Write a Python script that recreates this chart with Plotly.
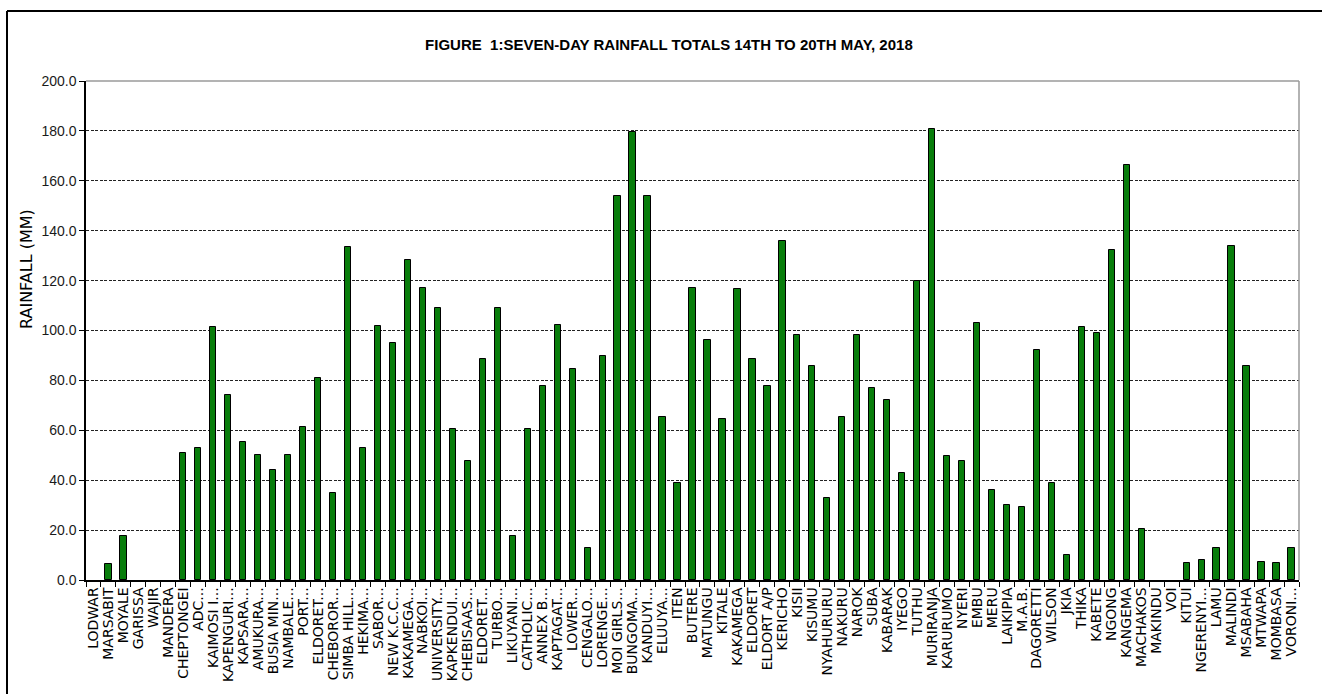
import plotly.graph_objects as go

# Stations along the x axis (as printed, long names truncated)
stations = [
    "LODWAR", "MARSABIT", "MOYALE", "GARISSA", "WAJIR", "MANDERA", "CHEPTONGEI",
    "ADC...", "KAIMOSI I...", "KAPENGURI...", "KAPSARA...", "AMUKURA...", "BUSIA MIN...",
    "NAMBALE...", "PORT...", "ELDORET...", "CHEBOROR...", "SIMBA HILL...", "HEKIMA...",
    "SABOR...", "NEW K.C.C...", "KAKAMEGA...", "NABKOI...", "UNIVERSITY...", "KAPKENDUI...",
    "CHEBISAAS...", "ELDORET...", "TURBO...", "LIKUYANI...", "CATHOLIC...", "ANNEX B...",
    "KAPTAGAT...", "LOWER...", "CENGALO...", "LORENGE...", "MOI GIRLS...", "BUNGOMA...",
    "KANDUYI...", "ELUUYA...", "ITEN", "BUTERE", "MATUNGU", "KITALE", "KAKAMEGA",
    "ELDORET", "ELDORT A/P", "KERICHO", "KISII", "KISUMU", "NYAHURURU", "NAKURU",
    "NAROK", "SUBA", "KABARAK", "IYEGO", "TUTHU", "MURIRANJA", "KARURUMO", "NYERI",
    "EMBU", "MERU", "LAIKIPIA", "M.A.B.", "DAGORETTI", "WILSON", "JKIA", "THIKA",
    "KABETE", "NGONG", "KANGEMA", "MACHAKOS", "MAKINDU", "VOI", "KITUI", "NGERENYI...",
    "LAMU", "MALINDI", "MSABAHA", "MTWAPA", "MOMBASA", "VORONI...",
]

# Seven-day rainfall totals (mm)
rainfall = [
    0.0, 6.5, 17.5, 0.0, 0.0, 0.0, 51.0,
    53.0, 101.5, 74.0, 55.5, 50.2, 43.9,
    50.2, 61.2, 81.0, 35.0, 133.4, 53.0,
    102.0, 94.8, 128.2, 117.2, 108.9, 60.5,
    47.7, 88.6, 108.9, 17.6, 60.5, 77.8,
    102.1, 84.5, 12.7, 89.9, 154.1, 179.5,
    154.1, 65.3, 38.8, 117.2, 96.2, 64.7, 116.7,
    88.6, 77.8, 135.8, 98.2, 85.9, 32.7, 65.3,
    98.2, 77.1, 72.2, 42.9, 119.9, 180.7, 49.7, 47.7,
    102.9, 36.1, 29.9, 29.3, 92.2, 38.8, 10.2, 101.6,
    98.9, 132.2, 166.4, 20.3, 0.0, 0.0, 6.7, 8.0,
    12.7, 133.8, 85.9, 7.3, 6.7, 12.7,
]

y_ticks = [0, 20, 40, 60, 80, 100, 120, 140, 160, 180, 200]

positions = list(range(len(stations)))

W, H = 1322, 694
L, R, T, B = 86, 23, 81, 114
pw, ph = W - L - R, H - T - B


def px_x(p):
    return (p - L) / pw


def px_y(p):
    return (H - B - p) / ph


# no outline on stations that recorded nothing
outline_widths = [1 if v > 0 else 0 for v in rainfall]

fig = go.Figure(
    go.Bar(
        x=positions,
        y=rainfall,
        width=0.42,
        marker=dict(color="#087d0b", line=dict(color="#000000", width=outline_widths)),
        hoverinfo="x+y",
    )
)

fig.update_layout(
    width=W,
    height=H,
    margin=dict(l=L, r=R, t=T, b=B, pad=0),
    paper_bgcolor="#ffffff",
    plot_bgcolor="#ffffff",
    showlegend=False,
    bargap=0,
    title=dict(
        text="<b>FIGURE  1:SEVEN-DAY RAINFALL TOTALS 14TH TO 20TH MAY, 2018</b>",
        x=0.506,
        xanchor="center",
        y=1 - 45 / H,
        yanchor="middle",
        font=dict(family="Liberation Sans Narrow, Arial, sans-serif", size=15, color="#000000"),
    ),
    font=dict(family="Arial, Liberation Sans, sans-serif", color="#000000"),
)

fig.update_xaxes(
    range=[-0.5, len(stations) - 0.5],
    tickmode="array",
    tickvals=positions,
    ticktext=stations,
    tickangle=-90,
    ticks="",
    tickfont=dict(family="DejaVu Sans, Verdana, sans-serif", size=14, color="#000000"),
    showline=True,
    linecolor="#000000",
    linewidth=1.5,
    showgrid=False,
    zeroline=False,
    minor=dict(
        tickmode="array",
        tickvals=[p - 0.5 for p in positions] + [len(stations) - 0.5],
        ticks="outside",
        ticklen=5,
        tickwidth=1,
        tickcolor="#000000",
        showgrid=False,
    ),
)

fig.update_yaxes(
    range=[0, 200],
    tickmode="array",
    tickvals=y_ticks,
    tickformat=".1f",
    ticks="outside",
    ticklen=5,
    tickcolor="#000000",
    tickfont=dict(family="Arial, Liberation Sans, sans-serif", size=14, color="#1a1a1a"),
    showline=True,
    linecolor="#000000",
    linewidth=1.5,
    showgrid=True,
    gridcolor="#222222",
    gridwidth=1,
    griddash="3px,1.5px",
    zeroline=False,
)

# Y-axis title
fig.add_annotation(
    text="RAINFALL (MM)",
    xref="paper", yref="paper",
    x=px_x(26), y=px_y(269),
    xanchor="center", yanchor="middle",
    textangle=-90,
    showarrow=False,
    font=dict(family="DejaVu Sans, Verdana, sans-serif", size=16, color="#000000"),
)

# Grey top and right edges of the plotting area
fig.add_shape(type="line", xref="paper", yref="paper", x0=0, x1=1, y0=1, y1=1,
              line=dict(color="#9a9a9a", width=1.5))
fig.add_shape(type="line", xref="paper", yref="paper", x0=1, x1=1, y0=0, y1=1,
              line=dict(color="#9a9a9a", width=1.5))

# Outer chart frame (top and left edges)
fig.add_shape(type="line", xref="paper", yref="paper",
              x0=px_x(7), x1=px_x(W + 5), y0=px_y(11), y1=px_y(11),
              line=dict(color="#000000", width=2))
fig.add_shape(type="line", xref="paper", yref="paper",
              x0=px_x(7), x1=px_x(7), y0=px_y(11), y1=px_y(H + 5),
              line=dict(color="#000000", width=2))

fig.write_html("out.html")
